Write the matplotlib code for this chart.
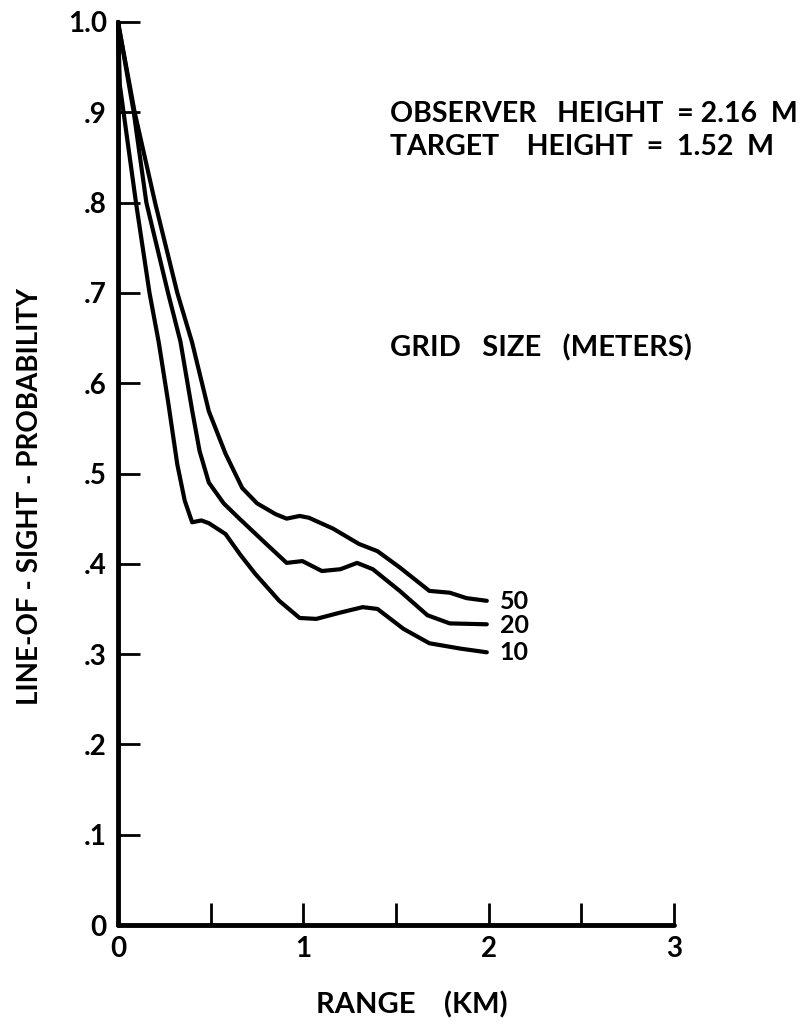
import numpy as np
import matplotlib
matplotlib.use("Agg")
import matplotlib.pyplot as plt

plt.rcParams['font.family'] = ['Lato', 'DejaVu Sans']
plt.rcParams['font.weight'] = 'bold'

# range (km) and line-of-sight probability
range_50 = [0, 0.09, 0.20, 0.32, 0.40, 0.49, 0.58, 0.67, 0.75, 0.85, 0.91, 0.98, 1.03,
            1.16, 1.30, 1.40, 1.52, 1.68, 1.79, 1.88, 1.99]
prob_50 = [1.0, 0.90, 0.80, 0.70, 0.645, 0.569, 0.522, 0.484, 0.467, 0.455, 0.450, 0.453, 0.451,
           0.439, 0.422, 0.414, 0.396, 0.370, 0.368, 0.362, 0.359]

range_20 = [0, 0.085, 0.153, 0.27, 0.337, 0.40, 0.44, 0.49, 0.57, 0.65, 0.80, 0.91, 0.995,
            1.10, 1.20, 1.29, 1.375, 1.52, 1.67, 1.79, 1.99]
prob_20 = [1.0, 0.90, 0.80, 0.70, 0.646, 0.57, 0.525, 0.490, 0.467, 0.451, 0.422, 0.401, 0.403,
           0.392, 0.394, 0.401, 0.394, 0.370, 0.343, 0.334, 0.333]

range_10 = [0, 0.01, 0.03, 0.097, 0.17, 0.22, 0.27, 0.32, 0.36, 0.40, 0.45, 0.49, 0.58, 0.66,
            0.74, 0.87, 0.98, 1.07, 1.20, 1.32, 1.40, 1.54, 1.68, 1.85, 1.99]
prob_10 = [1.0, 0.93, 0.90, 0.80, 0.70, 0.645, 0.58, 0.51, 0.47, 0.446, 0.448, 0.445, 0.433,
           0.41, 0.389, 0.359, 0.340, 0.339, 0.346, 0.352, 0.350, 0.328, 0.312, 0.306, 0.302]

grid_sizes = ["50", "20", "10"]
label_y = [0.358, 0.332, 0.302]

y_ticks = [0, 0.1, 0.2, 0.3, 0.4, 0.5, 0.6, 0.7, 0.8, 0.9, 1.0]
y_labels = ["0", ".1", ".2", ".3", ".4", ".5", ".6", ".7", ".8", ".9", "1.0"]
x_major = [0, 1, 2, 3]
x_minor = [0.5, 1.5, 2.5]

fig = plt.figure(figsize=(8.06, 10.27), dpi=100)
ax = fig.add_axes([118 / 806, 1 - 925 / 1027, 556 / 806, 903 / 1027])

for xs, ys in [(range_50, prob_50), (range_20, prob_20), (range_10, prob_10)]:
    ax.plot(xs, ys, color="black", lw=3.0, solid_joinstyle="round",
            solid_capstyle="round", clip_on=False)

for lab, yy in zip(grid_sizes, label_y):
    ax.text(2.06, yy, lab, fontsize=18, va="center", ha="left")

ax.text(1.47, 0.898, "OBSERVER   HEIGHT  = 2.16  M", fontsize=20.5, va="center")
ax.text(1.47, 0.862, "TARGET    HEIGHT  =  1.52  M", fontsize=20.5, va="center")
ax.text(1.47, 0.639, "GRID   SIZE   (METERS)", fontsize=21, va="center")

ax.set_xlim(0, 3)
ax.set_ylim(0, 1.0)
for side in ["top", "right"]:
    ax.spines[side].set_visible(False)
for side in ["left", "bottom"]:
    ax.spines[side].set_linewidth(3.5)
    ax.spines[side].set_capstyle("round")

ax.set_yticks(y_ticks)
ax.set_yticklabels(y_labels)
ax.set_xticks(x_major)
ax.set_xticks(x_minor, minor=True)
ax.tick_params(axis="both", which="both", direction="in", length=16, width=2,
               labelsize=20, pad=8)

ax.set_xlabel("RANGE    (KM)", fontsize=21, fontweight="bold")
ax.xaxis.set_label_coords(0.528, -0.073)
ax.set_ylabel("LINE-OF - SIGHT - PROBABILITY", fontsize=20, fontweight="bold")
ax.yaxis.set_label_coords(-0.135, 0.475)

fig.savefig("out.png", dpi=100)
